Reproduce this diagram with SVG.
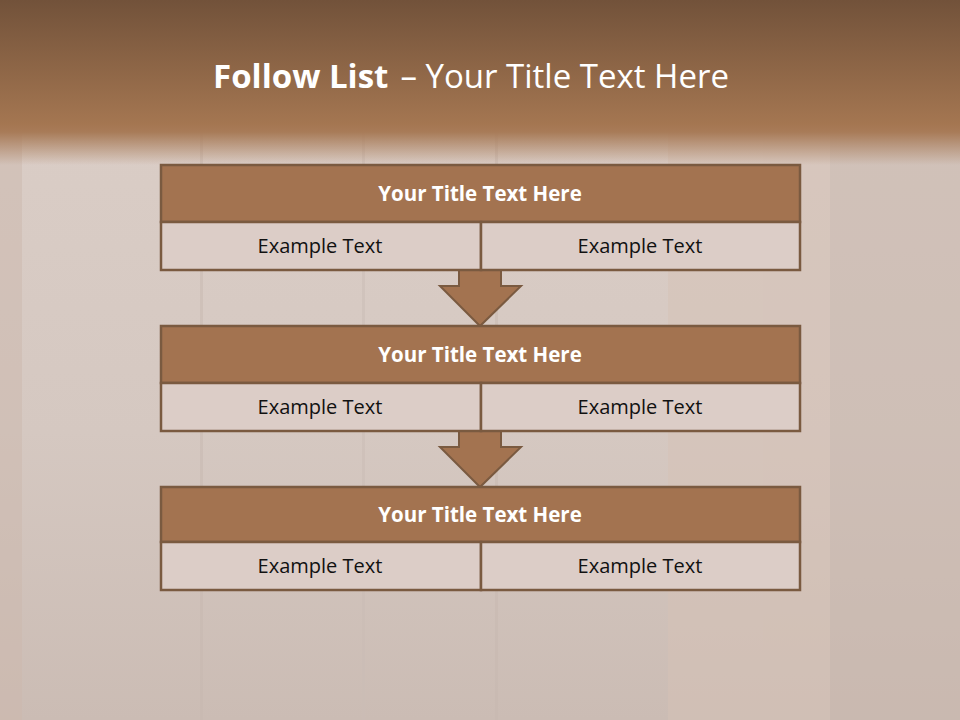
<svg xmlns="http://www.w3.org/2000/svg" width="960" height="720" viewBox="0 0 960 720">
<defs>
<linearGradient id="bg" x1="0" y1="0" x2="0" y2="1">
<stop offset="0" stop-color="#dccfc8"/>
<stop offset="0.6" stop-color="#d5c8c1"/>
<stop offset="1" stop-color="#cbbcb4"/>
</linearGradient>
<linearGradient id="top" x1="0" y1="0" x2="0" y2="1">
<stop offset="0" stop-color="#72523a"/>
<stop offset="0.75" stop-color="#a47651"/>
<stop offset="0.8" stop-color="#a87b58"/>
<stop offset="1" stop-color="#a87b58" stop-opacity="0"/>
</linearGradient>
<style>
.title{fill:#a37350;stroke:#7a5a40;stroke-width:2.5}
.row{fill:#dccdc7;stroke:#7a5a40;stroke-width:2.5}
.arrow{fill:#a37350;stroke:#7a5a40;stroke-width:2}
.tt{font-family:"Open Sans","Noto Sans",sans-serif;font-weight:bold;font-size:20.5px;fill:#ffffff;text-anchor:middle}
.et{font-family:"Open Sans","Noto Sans",sans-serif;font-size:20px;fill:#111111;text-anchor:middle}
</style>
</defs>
<rect x="0" y="0" width="960" height="720" fill="url(#bg)"/>
<g opacity="0.5">
<rect x="0" y="130" width="22" height="590" fill="#cdb9ae"/>
<rect x="200" y="130" width="3" height="590" fill="#c8b9b1"/>
<rect x="362" y="130" width="3" height="590" fill="#cbbdb6"/>
<rect x="495" y="130" width="3" height="590" fill="#c8b9b1"/>
<rect x="668" y="130" width="162" height="590" fill="#d6c2b6"/>
<rect x="830" y="130" width="130" height="590" fill="#c9b7ad"/>
</g>
<rect x="0" y="0" width="960" height="165" fill="url(#top)"/>
<text x="471" y="88" text-anchor="middle" font-family="'Open Sans','Noto Sans',sans-serif" font-size="33" fill="#ffffff"><tspan font-weight="bold">Follow List</tspan><tspan dx="12">– Your Title Text Here</tspan></text>
<g id="connectors">
<polygon class="arrow" points="459,270 501,270 501,286 521,286 480,326 440,286 459,286"/>
<polygon class="arrow" points="459,431 501,431 501,447 521,447 480,487 440,447 459,447"/>
</g>
<g id="node1">
<rect class="title" x="161" y="165" width="639" height="57"/>
<rect class="row" x="161" y="222" width="320" height="48"/>
<rect class="row" x="481" y="222" width="319" height="48"/>
<text class="tt" x="480" y="201">Your Title Text Here</text>
<text class="et" x="320" y="253">Example Text</text>
<text class="et" x="640" y="253">Example Text</text>
</g>
<g id="node2">
<rect class="title" x="161" y="326" width="639" height="57"/>
<rect class="row" x="161" y="383" width="320" height="48"/>
<rect class="row" x="481" y="383" width="319" height="48"/>
<text class="tt" x="480" y="362">Your Title Text Here</text>
<text class="et" x="320" y="414">Example Text</text>
<text class="et" x="640" y="414">Example Text</text>
</g>
<g id="node3">
<rect class="title" x="161" y="487" width="639" height="55"/>
<rect class="row" x="161" y="542" width="320" height="48"/>
<rect class="row" x="481" y="542" width="319" height="48"/>
<text class="tt" x="480" y="522">Your Title Text Here</text>
<text class="et" x="320" y="573">Example Text</text>
<text class="et" x="640" y="573">Example Text</text>
</g>
</svg>
